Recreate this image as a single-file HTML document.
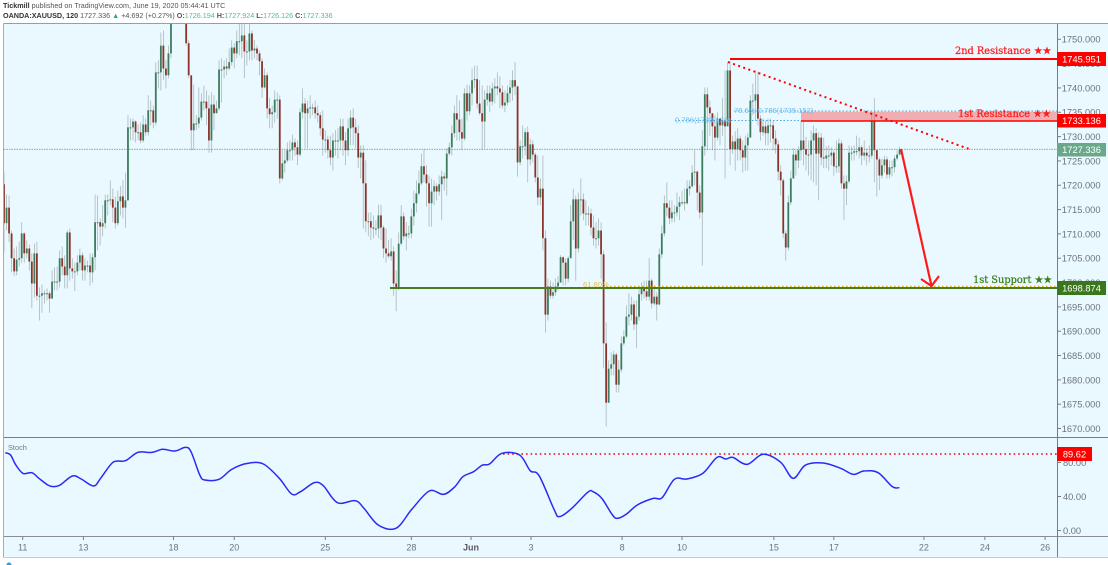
<!DOCTYPE html>
<html lang="en">
<head>
<meta charset="utf-8">
<title>XAUUSD chart</title>
<style>
html,body{margin:0;padding:0;background:#fff;width:1108px;height:565px;overflow:hidden}
svg{display:block;font-family:"Liberation Sans",sans-serif;filter:blur(0.35px)}
</style>
</head>
<body>
<svg id="chart" xmlns="http://www.w3.org/2000/svg" width="1108" height="565" viewBox="0 0 1108 565">
  <defs><clipPath id="main-clip"><rect x="4" y="24" width="1053" height="413"/></clipPath></defs>
  <rect width="1108" height="565" fill="#fff"/>
  <text x="3" y="7.8" font-size="7.2" fill="#555"><tspan font-weight="bold" fill="#333">Tickmill</tspan> published on TradingView.com, June 19, 2020 05:44:41 UTC</text>
  <text x="3" y="17.8" font-size="7.2" fill="#555"><tspan font-weight="bold" fill="#333">OANDA:XAUUSD, 120</tspan> 1727.336 <tspan fill="#26a69a">▲</tspan> +4.692 (+0.27%) <tspan font-weight="bold">O:</tspan><tspan fill="#53b9a0">1726.194</tspan> <tspan font-weight="bold">H:</tspan><tspan fill="#53b9a0">1727.924</tspan> <tspan font-weight="bold">L:</tspan><tspan fill="#53b9a0">1726.126</tspan> <tspan font-weight="bold">C:</tspan><tspan fill="#53b9a0">1727.336</tspan></text>
  <rect x="3.5" y="23.5" width="1105" height="534" fill="#e9f9ff"/>
  <line x1="3.5" x2="1108" y1="23.5" y2="23.5" stroke="#9a9da3"/>
  <line x1="3.5" x2="3.5" y1="23.5" y2="557.5" stroke="#a9adb3"/>
  <line x1="3.5" x2="1108" y1="557.5" y2="557.5" stroke="#c8ccd0"/>
  <g id="price-ticks"></g>
  <g id="date-ticks"></g>
  <g id="stoch-ticks"></g>
  <line x1="4" x2="1057" y1="149.3" y2="149.3" stroke="#6fa58c" stroke-width="0.8" stroke-dasharray="1.5 1"/>
  <g id="candles" clip-path="url(#main-clip)"></g>
  <line x1="4" x2="1108" y1="437.5" y2="437.5" stroke="#787b86"/>
  <line x1="4" x2="1108" y1="536.5" y2="536.5" stroke="#8a8d96"/>
  <line x1="1057.5" x2="1057.5" y1="24" y2="557" stroke="#787b86"/>

  <rect x="801" y="111.7" width="256" height="9.3" fill="#ff0000" fill-opacity="0.3"/>
  <line x1="734" x2="1057" y1="111" y2="111" stroke="#4aa8e0" stroke-width="1" stroke-dasharray="1.5 2"/>
  <line x1="675" x2="801" y1="120.5" y2="120.5" stroke="#4aa8e0" stroke-width="1" stroke-dasharray="1.5 2"/>
  <text x="675" y="122.5" font-size="7.6" fill="#6cbcec">0.786(1733.136)</text>
  <text x="734" y="113" font-size="7.6" fill="#6cbcec">78.6% 0.786(1735.152)</text>
  <line x1="801" x2="1057" y1="121" y2="121" stroke="#ff0000" stroke-width="1.6"/>
  <line x1="730" x2="1057" y1="59" y2="59" stroke="#ff0000" stroke-width="2"/>
  <line x1="728" x2="969" y1="62" y2="149" stroke="#ff0000" stroke-width="2" stroke-dasharray="2 3.4"/>
  <line x1="606" x2="1057" y1="286.4" y2="286.4" stroke="#d8b020" stroke-width="1.4" stroke-dasharray="1.5 2.5"/>
  <text x="583" y="287" font-size="7.6" fill="#dcc060">61.80%</text>
  <line x1="390" x2="1057" y1="288" y2="288" stroke="#4a7d22" stroke-width="2"/>
  <g fill="none" stroke="#ff1a1a" stroke-width="2.2">
    <line x1="901" y1="149" x2="931.5" y2="286"/>
    <polyline points="921,279 931.5,286 939,276"/>
  </g>
  <line x1="503" x2="1057" y1="454" y2="454" stroke="#ff0000" stroke-width="1.5" stroke-dasharray="1.6 3"/>

  <text x="955" y="54" font-family="'DejaVu Serif','Liberation Serif',serif" font-size="9.8" fill="#ff1a1a" stroke="#ff1a1a" stroke-width="0.25">2nd Resistance ★★</text>
  <text x="958" y="117" font-family="'DejaVu Serif','Liberation Serif',serif" font-size="9.8" fill="#ff1a1a" stroke="#ff1a1a" stroke-width="0.25">1st Resistance ★★</text>
  <text x="973" y="283" font-family="'DejaVu Serif','Liberation Serif',serif" font-size="9.8" fill="#3d7d1c" stroke="#3d7d1c" stroke-width="0.25">1st Support ★★</text>

  <rect x="1057" y="52" width="49" height="14" fill="#ff0000"/>
  <text x="1081.5" y="62.3" text-anchor="middle" font-size="9.3" fill="#fff">1745.951</text>
  <rect x="1057" y="114" width="49" height="13.5" fill="#ff0000"/>
  <text x="1081.5" y="124.2" text-anchor="middle" font-size="9.3" fill="#fff">1733.136</text>
  <rect x="1057" y="143" width="49" height="13.5" fill="#6aa88a"/>
  <text x="1081.5" y="153.2" text-anchor="middle" font-size="9.3" fill="#fff">1727.336</text>
  <rect x="1057" y="281" width="49" height="14" fill="#3a761c"/>
  <text x="1081.5" y="291.3" text-anchor="middle" font-size="9.3" fill="#fff">1698.874</text>
  <rect x="1057" y="447" width="35" height="14" fill="#ff0000"/>
  <text x="1074.5" y="457.3" text-anchor="middle" font-size="9.3" fill="#fff">89.62</text>

  <text x="8" y="450" font-size="7.4" fill="#777">Stoch</text>
  <path id="stoch-line" fill="none" stroke="#2a2af5" stroke-width="1.5"/>
  <circle cx="9" cy="565" r="2.5" fill="#2d9ee0"/>
</svg>
<script>
const closes = [
1712.2,1715.4,1710.1,1705,1702.3,1704.7,1705,1710.1,1706,1707,
1704.3,1699.8,1706,1697.3,1697.3,1697.8,1697.8,1697.8,1696.7,1700.2,
1700.2,1700.2,1705,1703.3,1701.5,1710.3,1702.9,1702.3,1702.3,1704.1,
1705.6,1702.5,1703.5,1703.5,1702.1,1705.2,1712.4,1712.4,1711.5,1712.2,
1716.9,1716.9,1717.1,1715.4,1712.2,1716.7,1717.7,1715.4,1716.9,1731.9,
1731.9,1733.1,1730.9,1730.9,1729.2,1732.5,1730.9,1735.4,1735.4,1732.9,
1743.2,1743.2,1748.7,1744,1742.6,1747.1,1753.3,1755.5,1758,1760,
1758,1754.9,1749.2,1742.6,1731.3,1732.7,1732.7,1733.9,1737.2,1737.2,
1735.8,1729.2,1736.6,1734.8,1735.8,1743.8,1743.8,1744.4,1744,1745.3,
1748.3,1747.1,1749.6,1749.6,1750.8,1747.5,1747.5,1751.2,1747.7,1748.1,
1747.1,1745.5,1740.1,1742.6,1735.8,1734.6,1735,1737.6,1737.6,1721.4,
1724.5,1725.1,1727.2,1727.2,1728.8,1727.8,1726.3,1735,1736.8,1734.8,
1735.8,1736,1736,1734.8,1734.4,1731.7,1729.4,1729.4,1727.2,1725.7,
1729.2,1729.2,1729.2,1732.1,1729.2,1727.2,1731.7,1733.9,1731.9,1730.7,
1725.7,1726.7,1720.4,1712.6,1712.6,1711.3,1711.1,1711.1,1713.8,1711.3,
1707,1706,1705.4,1706.4,1699.8,1699,1708,1713.6,1709.5,1710.1,
1710.1,1713.6,1716.3,1718.3,1720.4,1723.9,1722.2,1720.4,1716.3,1718.7,
1719.8,1718.7,1720.2,1721.8,1721.4,1726.5,1727.8,1730.7,1734.8,1733.5,
1730.9,1729.6,1738.9,1735.2,1738.9,1741.6,1741.8,1736.8,1734.8,1733.1,
1737.6,1738.9,1737.2,1739.9,1740.3,1739.9,1739.1,1736.4,1737,1738.9,
1740.1,1741.6,1740.3,1724.7,1728,1728,1730.9,1725.3,1728.4,1726.3,
1721.6,1717.5,1719.3,1709.1,1693.4,1699.2,1697.3,1698,1699.2,1700,
1705.2,1704.1,1700.8,1705,1712.6,1717.1,1707,1717.1,1717.1,1714.2,
1714.2,1714.2,1711.3,1709.1,1709.1,1710.7,1705.8,1687.5,1675.3,1682.3,
1683.2,1685.2,1679,1682.1,1687.5,1688.9,1693,1693.4,1695.5,1691.4,
1693,1697.6,1699,1698.2,1697.1,1700.4,1695.7,1697.1,1695.5,1705.8,
1710.1,1716.3,1715.4,1713.2,1714.4,1714.4,1715.6,1716.5,1716.5,1716.3,
1719.3,1719.8,1722.6,1722.8,1718.5,1714.4,1728,1738.7,1736,1734.8,
1732.1,1729.8,1733.7,1732.3,1733.3,1732.1,1743.6,1727.4,1729,1727.4,
1729.6,1727.2,1725.7,1728.2,1729.8,1737.4,1737.4,1738.7,1733.7,1730.9,
1732.1,1730.7,1732.3,1732.3,1729.6,1728.4,1722.8,1721,1710.1,1707.2,
1716.5,1721.4,1726.3,1725.1,1727.2,1729.2,1727.4,1726.3,1726.3,1729.2,
1730.7,1726.5,1729.8,1725.7,1725.5,1726.1,1726.1,1726.7,1723.9,1723.9,
1728.6,1720.4,1719.3,1720.8,1726.7,1726.7,1727,1727,1727.8,1726.1,
1726.7,1726.1,1726.1,1733.3,1727.2,1725.3,1722,1724.1,1725.3,1722.2,
1723.7,1723.7,1725.5,1726.3,1727.336
];
const highs = [
1722.6,1718.1,1717.9,1710.7,1707,1707.4,1708.4,1712.4,1710.3,1708.7,
1707.8,1706,1708,1708.4,1699,1699.6,1698.4,1698.8,1698.2,1702.5,
1703.1,1703.3,1706.6,1707.4,1705.6,1710.7,1711.1,1705,1704.1,1705.6,
1707,1706.2,1705,1704.5,1706,1706,1718.1,1717.9,1713.2,1715.9,
1718.1,1718.1,1721,1719.3,1717.7,1718.9,1719.8,1721,1722.6,1734.4,
1733.7,1733.7,1733.3,1732.5,1732.9,1734.4,1733.7,1738.5,1737.4,1736.4,
1745.3,1745.7,1751.4,1751.8,1745.7,1748.7,1756.4,1762,1764,1764,
1762,1759,1754.9,1749.8,1742.6,1740.7,1734.4,1740.1,1738.9,1740.5,
1739.5,1738.5,1739.1,1738.5,1737.4,1745.7,1746.1,1745.7,1746.1,1748.1,
1749.8,1749.2,1751.8,1753.3,1753.3,1753.3,1749.8,1753.3,1751.8,1749.8,
1748.7,1747.7,1746.1,1744,1743.2,1737.9,1736.4,1739.5,1739.1,1738.5,
1727.2,1727.2,1728.8,1729.2,1730.4,1729.6,1729.2,1735.8,1739.9,1737.9,
1737.4,1738.5,1736.8,1737.4,1736.4,1735,1735.4,1731.3,1730.2,1730.2,
1730.7,1731.3,1731.7,1733.7,1733.7,1730.9,1733.7,1735.4,1735.8,1733.7,
1732.3,1728.2,1728.2,1725.1,1714.4,1714.4,1713.8,1712.8,1716,1716,
1711.7,1711.1,1708.7,1709.1,1707.4,1702.5,1710.3,1715.9,1714.4,1712.4,
1711.7,1715.2,1718.9,1721,1723,1726.5,1727.4,1724.1,1722,1721.4,
1721,1720.4,1722,1723,1722.6,1727.6,1728.8,1732.3,1736.4,1738.5,
1737.4,1733.7,1739.9,1740.7,1740.5,1744,1744.6,1744.6,1741.6,1740.5,
1739.5,1740.5,1740.5,1741.1,1742,1743.2,1742.4,1740.5,1739.5,1740.5,
1741.6,1743.6,1745.3,1740.5,1729.2,1732.3,1731.7,1732.1,1729.6,1729.2,
1726.7,1726.1,1721.4,1726.1,1710.7,1700.8,1700.4,1700,1700.8,1701.3,
1705.6,1705.4,1705,1705.4,1715.9,1719.3,1717.9,1718.5,1721.4,1718.3,
1716.9,1715.6,1715.2,1713.8,1712.4,1713.2,1712.4,1706.6,1691.8,1684,
1685.6,1686,1685.6,1684,1688.9,1690.2,1695.3,1697.8,1697.1,1696.3,
1696.3,1698.8,1700,1700.4,1700.4,1705,1700.8,1699.4,1698,1707,
1711.7,1717.9,1720.6,1716.9,1716.9,1715.9,1718.5,1717.7,1718.9,1719.3,
1721,1721,1724.1,1727.2,1723,1720,1731.3,1740.1,1740.1,1737.4,
1733.7,1734.4,1735,1733.7,1737.9,1743.6,1745.3,1745.5,1730.2,1731.1,
1731.7,1730.2,1729.2,1730.2,1730.7,1738.5,1740.9,1743.6,1743.4,1734.4,
1733.7,1733.3,1733.7,1733.7,1733.3,1731.3,1729.2,1724.1,1721.4,1710.7,
1717.9,1723,1727.6,1727.2,1728,1733.3,1733.3,1730,1729.2,1731.3,
1732.3,1731.7,1730.9,1730.7,1729.8,1728,1728.2,1727.8,1727.2,1729.2,
1729.6,1729.2,1722,1722,1728.2,1728,1728.2,1730.2,1729.8,1728.2,
1729.2,1727.6,1728.2,1735,1737.9,1727.2,1725.7,1725.5,1726.1,1725.9,
1725.1,1725.1,1726.1,1727.2,1727.924
];
const lows = [
1706.2,1710.7,1708.3,1702.1,1701.3,1701.5,1703.3,1704.1,1704.1,1705,
1702.5,1694.7,1696.9,1696.3,1692.2,1693.8,1695.7,1696.3,1693.8,1696.7,
1698.4,1698.4,1699,1701.5,1698.8,1698.8,1700.4,1700.8,1698.2,1701.5,
1702.5,1700.4,1700.4,1702.1,1699.4,1700,1702.5,1706.6,1707.6,1709.5,
1711.1,1713.8,1715.9,1712.4,1711.1,1711.7,1713.8,1713.2,1711.3,1716.9,
1729.2,1729.2,1728.8,1729.2,1728.6,1728.8,1730.2,1730.2,1732.3,1731.7,
1732.3,1739.9,1739.5,1741.6,1739.9,1742,1746.1,1753.5,1753.9,1754.9,
1754.3,1753.9,1748.7,1742,1727.2,1727.2,1731.3,1731.7,1733.3,1735.4,
1732.3,1726.7,1726.7,1731.3,1734.8,1735.4,1737,1742,1742.6,1743.6,
1744.6,1744,1746.1,1746.7,1746.1,1742,1744.6,1745.7,1745.7,1746.1,
1745.7,1742.6,1737.9,1739.9,1733.7,1731.7,1731.7,1732.9,1733.7,1720.4,
1721,1722.6,1724.7,1725.1,1725.1,1726.1,1724.1,1725.9,1733.7,1727.6,
1727.6,1733.7,1734.4,1733.7,1732.9,1730.2,1726.1,1726.7,1725.5,1724.1,
1723,1726.1,1725.5,1727.2,1726.1,1724.1,1726.1,1728.2,1728.2,1727.6,
1723.5,1721.4,1711.1,1710.3,1709.5,1708.7,1709.1,1709.7,1709.1,1708.7,
1705,1704.1,1705,1704.5,1697.3,1694.1,1698.4,1707.6,1708.7,1706.6,
1709.1,1709.1,1711.7,1714.4,1717.9,1720,1720.6,1715.6,1711.5,1711.5,
1715.9,1716.9,1717.9,1712.8,1718.9,1717.9,1726.1,1726.1,1729.8,1729.2,
1729.2,1727.2,1729.2,1733.3,1734.4,1736.4,1739.9,1735.8,1734.4,1727.2,
1727.6,1736.4,1735,1736.4,1736.8,1738.5,1735.8,1735.8,1735,1736.4,
1737,1737.4,1738.5,1721.8,1724.1,1725.5,1726.1,1720.6,1724.1,1724.7,
1720.6,1715.9,1715.9,1706.6,1689.7,1692.2,1696.7,1696.7,1697.3,1698.4,
1700,1699.4,1699.4,1700,1705,1708.7,1700.4,1706.2,1713.8,1712.8,
1711.7,1711.7,1709.7,1707.6,1707,1707.6,1700.8,1682.5,1670.4,1675.3,
1680.9,1680.9,1677.4,1677.4,1681.5,1687.1,1688.5,1691.2,1692.2,1690.2,
1686.5,1692.2,1696.3,1696.7,1696.3,1696.3,1694.7,1695.3,1692.2,1695.3,
1705,1709.5,1713.6,1712,1712.4,1712.4,1713.6,1712.8,1715.9,1714.8,
1716,1717.9,1719.5,1720,1714.8,1713.2,1703.5,1726.1,1727.2,1730.2,
1727.2,1725.1,1729.2,1728.2,1730.2,1721.4,1732.3,1724.1,1726.5,1723,
1725.1,1725.1,1722.6,1723,1723,1730.2,1734.4,1733.3,1732.3,1729.2,
1730.2,1728.2,1728.2,1728.8,1727.2,1726.5,1721,1717.9,1709.1,1704.5,
1706.6,1715.9,1721.4,1722,1723.5,1725.1,1724.1,1723,1722,1721,
1720.6,1720,1716.9,1724.1,1723.5,1723.5,1723,1724.1,1722,1722.6,
1722.6,1719.3,1712.8,1715.9,1720.4,1725.1,1725.1,1726.1,1725.5,1724.1,
1725.1,1724.1,1724.7,1725.5,1720.6,1717.7,1719,1721.4,1722.6,1721.4,
1721.4,1721.8,1722.6,1725.1,1726.126
];
const firstOpen = 1720.2;
const stochBars = [0.5,2.6,4.7,7.5,11,13.8,17.3,19.4,22.2,27,30.5,35.4,38.2,43.1,48,52.9,58.5,62.7,67.6,71.7,73.9,77.4,79.4,85,90,96.2,102.5,108.8,113.7,117.2,122.7,126.2,131.8,138.8,142.3,147.9,154.9,161.2,168.1,173.7,178,181.4,185.6,189.1,191.9,196.8,203.8,208,211.5,217.4,219.5,224.4,230.7,232.8,236.3,240.5,242.6,246.1,250.3,256.6,260.1,265,269.9,276.2,281.8,285.3,288.1,293.7,300,307,311.9,316.8,323.8,330.8,335.7,339.9,345.5,351.1,353.9];
const stochValues = [91.5,88.8,77,67.2,68,61.4,53.5,51.6,53.5,64.1,60.6,52.3,61.4,80.2,82.1,91.9,91.9,95.5,93.5,97.8,92.7,65.3,59.4,60.2,71.9,79,78.2,61.4,42.9,45.7,56.3,52.7,32.7,35.1,26,6.5,2.6,24.9,46.5,42.5,50.8,63.3,69.2,77,78.2,90.8,88.8,70.4,64.5,25,16.3,26,44.9,45.7,37.8,18.2,14.3,19.4,30,37.8,38.6,60.2,60.6,67.2,86,84.1,86,77.8,89.6,80.2,61.4,77,79.4,73.1,66,70,68,51.6,50.4];
const priceTickValues = [1750,1745,1740,1735,1730,1725,1720,1715,1710,1705,1700,1695,1690,1685,1680,1675,1670];
const stochTickValues = [0,40,80];
const dateLabels = ["11","13","18","20","25","28","Jun","3","8","10","15","17","22","24","26"];
const dateBars = [7.4,31.4,67,91,127,161,184.6,208.3,244.3,268,304.3,328,363.6,387.7,411.5];

const NS = "http://www.w3.org/2000/svg";
const barX = i => 4 + 2.53 * i;
const priceY = p => 39.3 + (1750 - p) * 4.865;
const stochY = v => 530.5 - v * 0.85;

function make(tag, attrs, parent) {
  const el = document.createElementNS(NS, tag);
  for (const k in attrs) el.setAttribute(k, attrs[k]);
  parent.appendChild(el);
  return el;
}

const candleGroup = document.getElementById("candles");
closes.forEach((c, i) => {
  const o = i === 0 ? firstOpen : closes[i - 1];
  const up = c >= o;
  const x = barX(i);
  const wick = make("line", {x1: x, x2: x, y1: priceY(highs[i]), y2: priceY(lows[i]), stroke: "#6d7676", "stroke-width": 0.8, "stroke-opacity": 0.5}, candleGroup);
  
  
  const top = priceY(Math.max(o, c));
  const h = Math.max(Math.abs(priceY(o) - priceY(c)), 1);
  const body = make("rect", {x: x - 0.9, y: top, width: 1.8, height: h, fill: up ? "#3b7d5c" : "#8c3429"}, candleGroup);
  
  
});

const priceGroup = document.getElementById("price-ticks");
priceTickValues.forEach(v => {
  const y = priceY(v);
  const tick = make("line", {x1: 1057, x2: 1061, y1: y, y2: y, stroke: "#787b86"}, priceGroup);
  
  
  const label = make("text", {x: 1100.5, y: y + 3.4, "text-anchor": "end", "font-size": 9.3, fill: "#6f727c"}, priceGroup);
  
  
  label.textContent = v.toFixed(3);
});

const stochGroup = document.getElementById("stoch-ticks");
stochTickValues.forEach(v => {
  const y = stochY(v);
  const tick = make("line", {x1: 1057, x2: 1061, y1: y, y2: y, stroke: "#787b86"}, stochGroup);
  
  
  const label = make("text", {x: 1063, y: y + 3.4, "font-size": 9.3, fill: "#6f727c"}, stochGroup);
  
  
  label.textContent = v.toFixed(2);
});

const dateGroup = document.getElementById("date-ticks");
dateLabels.forEach((t, i) => {
  const x = barX(dateBars[i]);
  const tick = make("line", {x1: x, x2: x, y1: 536.5, y2: 540, stroke: "#787b86"}, dateGroup);
  
  
  const label = make("text", {x: x, y: 550.5, "text-anchor": "middle", "font-size": 9, fill: t === "Jun" ? "#55585f" : "#6f727c", "font-weight": t === "Jun" ? "bold" : "normal"}, dateGroup);
  
  
  label.textContent = t;
});

const pts = stochBars.map((b, i) => [barX(b), stochY(stochValues[i])]);
let d = "M" + pts[0][0].toFixed(1) + " " + pts[0][1].toFixed(1);
for (let i = 0; i < pts.length - 1; i++) {
  const p0 = pts[Math.max(i - 1, 0)], p1 = pts[i], p2 = pts[i + 1], p3 = pts[Math.min(i + 2, pts.length - 1)];
  const c1x = p1[0] + (p2[0] - p0[0]) / 6, c1y = p1[1] + (p2[1] - p0[1]) / 6;
  const c2x = p2[0] - (p3[0] - p1[0]) / 6, c2y = p2[1] - (p3[1] - p1[1]) / 6;
  d += " C" + [c1x, c1y, c2x, c2y, p2[0], p2[1]].map(n => n.toFixed(1)).join(" ");
}
document.getElementById("stoch-line").setAttribute("d", d);
</script>
</body>
</html>
